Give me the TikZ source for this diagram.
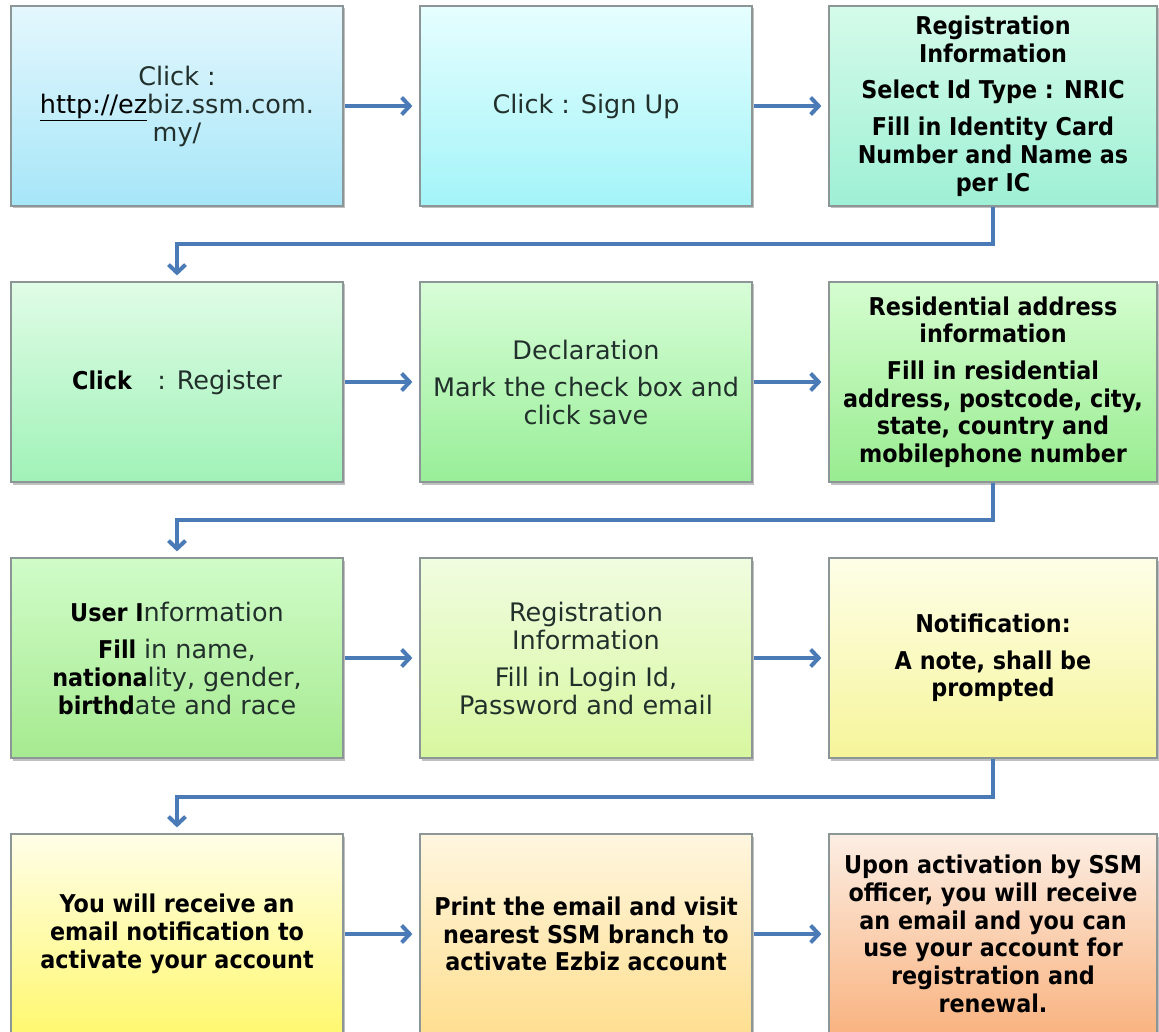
\documentclass[tikz,border=0pt]{standalone}
\usepackage{fontspec}
\setmainfont{DejaVu Sans}[BoldFeatures={FakeStretch=0.91}]
\usetikzlibrary{arrows.meta,shadows,calc}
\definecolor{boxgray}{HTML}{8C9696}
\definecolor{arrowblue}{HTML}{4A7BB7}
\definecolor{txt}{HTML}{22302C}
\definecolor{aT}{HTML}{E4F7FD}\definecolor{aB}{HTML}{A6E6F8}
\definecolor{bT}{HTML}{E6FEFF}\definecolor{bB}{HTML}{A3F4F8}
\definecolor{cT}{HTML}{D5FBEA}\definecolor{cB}{HTML}{9EF0D5}
\definecolor{dT}{HTML}{E0FCE6}\definecolor{dB}{HTML}{A0F2B8}
\definecolor{eT}{HTML}{D8FDD8}\definecolor{eB}{HTML}{98EE98}
\definecolor{fT}{HTML}{D5FDD0}\definecolor{fB}{HTML}{98EC90}
\definecolor{gT}{HTML}{D0FCC8}\definecolor{gB}{HTML}{A6EA90}
\definecolor{hT}{HTML}{F0FDE0}\definecolor{hB}{HTML}{D8F7A0}
\definecolor{iT}{HTML}{FEFEE8}\definecolor{iB}{HTML}{F6F59A}
\definecolor{jT}{HTML}{FFFEE8}\definecolor{jB}{HTML}{FFF870}
\definecolor{kT}{HTML}{FFF6E0}\definecolor{kB}{HTML}{FFDF90}
\definecolor{lT}{HTML}{FCEEE4}\definecolor{lB}{HTML}{F9B380}
\tikzset{
  flowbox/.style={draw=boxgray, line width=1.2pt, minimum width=332pt,
    minimum height=200pt, inner sep=0pt, align=center,
    font=\fontsize{25.5}{28}\selectfont, text=txt,
    drop shadow={shadow xshift=1.5pt, shadow yshift=-2.5pt, opacity=0.35, fill=black!70}},
  narrowbox/.style={flowbox, minimum width=328pt},
  boldtext/.style={text=black, font=\fontsize{24.5}{27.7}\selectfont\bfseries},
  conn/.style={draw=arrowblue, line width=4pt, line cap=butt,
    -{Straight Barb[length=8pt,width=17pt]}},
}
\newcommand{\bk}[1]{{\fontsize{24.5}{28}\selectfont\bfseries\color{black}#1}}
\begin{document}
\begin{tikzpicture}[x=1pt,y=-1pt]
\useasboundingbox[fill=white] (0,0) rectangle (1159,1032);
\clip (0,0) rectangle (1159,1032);
% row 1
\node[flowbox, top color=aT, bottom color=aB] (b11) at (177,106)
  {Click :\\ {\color{black}\underline{http://ez}}biz.ssm.com.\\ my/};
\node[flowbox, top color=bT, bottom color=bB] (b12) at (586,106)
  {Click : Sign Up};
\node[narrowbox, top color=cT, bottom color=cB, boldtext] (b13) at (993,106)
  {Registration\\ Information\\[9pt] Select Id Type : NRIC\\[9pt] Fill in Identity Card\\ Number and Name as\\ per IC};
% row 2
\node[flowbox, top color=dT, bottom color=dB] (b21) at (177,382)
  {\bk{Click}\quad: Register};
\node[flowbox, top color=eT, bottom color=eB] (b22) at (586,382)
  {Declaration\\[9pt] Mark the check box and\\ click save};
\node[narrowbox, top color=fT, bottom color=fB, boldtext] (b23) at (993,382)
  {Residential address\\ information\\[9pt] Fill in residential\\ address, postcode, city,\\ state, country and\\ mobilephone number};
% row 3
\node[flowbox, top color=gT, bottom color=gB] (b31) at (177,658)
  {\bk{User I}nformation\\[9pt] \bk{Fill }in name,\\ \bk{nationa}lity, gender,\\ \bk{birthd}ate and race};
\node[flowbox, top color=hT, bottom color=hB] (b32) at (586,658)
  {Registration\\ Information\\[9pt] Fill in Login Id,\\ Password and email};
\node[narrowbox, top color=iT, bottom color=iB, boldtext] (b33) at (993,658)
  {Notification:\\[9pt] A note, shall be\\ prompted};
% row 4
\node[flowbox, top color=jT, bottom color=jB, boldtext] (b41) at (177,934)
  {You will receive an\\ email notification to\\ activate your account};
\node[flowbox, top color=kT, bottom color=kB, boldtext] (b42) at (586,934)
  {Print the email and visit\\ nearest SSM branch to\\ activate Ezbiz account};
\node[narrowbox, top color=lT, bottom color=lB, boldtext] (b43) at (993,934)
  {Upon activation by SSM\\ officer, you will receive\\ an email and you can\\ use your account for\\ registration and\\ renewal.};
% connectors
\foreach \r in {1,2,3,4}{
  \draw[conn, shorten >=7pt, shorten <=1pt] (b\r1.east) -- (b\r2.west);
  \draw[conn, shorten >=7pt, shorten <=1pt] (b\r2.east) -- (b\r3.west);
}
\draw[conn, shorten >=6pt] (b13.south) -- ++(0,37) -| (b21.north);
\draw[conn, shorten >=6pt] (b23.south) -- ++(0,37) -| (b31.north);
\draw[conn, shorten >=6pt] (b33.south) -- ++(0,38) -| (b41.north);
\end{tikzpicture}
\end{document}
